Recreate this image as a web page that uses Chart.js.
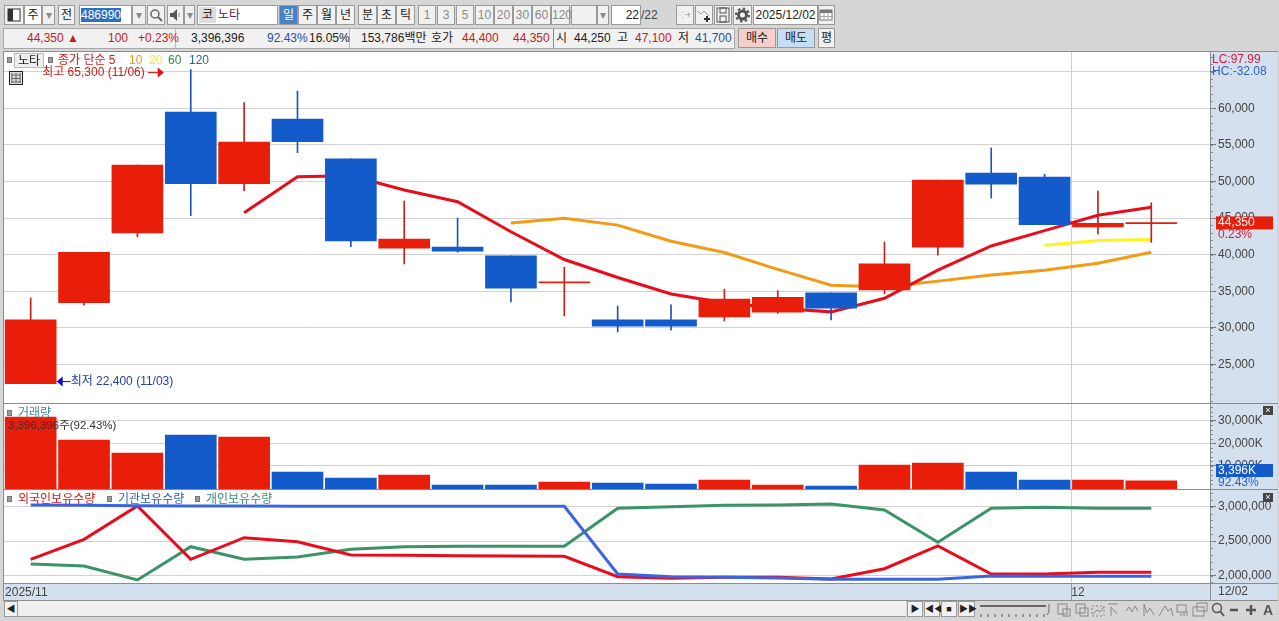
<!DOCTYPE html>
<html lang="ko">
<head>
<meta charset="utf-8">
<title>노타 486990</title>
<script src="https://cdn.jsdelivr.net/npm/chart.js@4"></script>
<style>
html,body{margin:0;padding:0;background:#d6d6d6;overflow:hidden}
body{width:1279px;height:621px;position:relative;font:12px 'Liberation Sans','Noto Sans CJK KR',sans-serif;color:#222}
div,span,canvas,svg{position:absolute;box-sizing:border-box;white-space:nowrap}
canvas{z-index:2}
.t{line-height:14px;z-index:3}
.b{top:5px;height:20px;background:#f1f1f1;border:1px solid #9a9a9a;text-align:center;line-height:18px}
.g{color:#8a8a8a}
.w{background:#fff}
.r{color:#c8201c}.u{color:#1f4fa8}
.sq{width:5px;height:6px;background:#9a9a9a;border:1px solid #777;z-index:3}
.ln{left:0;width:1279px;height:1px;background:#8c8c8c;z-index:4}
</style>
</head>
<body>
<!-- toolbar row 1 -->
<div class="b" style="left:4px;width:20px"><svg width="18" height="18" style="left:0;top:0"><rect x="3" y="3" width="12" height="12" fill="#fff" stroke="#333"/><rect x="3" y="3" width="5" height="12" fill="#333"/></svg></div>
<div class="b w" style="left:24px;width:18px">주</div>
<div class="b g" style="left:42px;width:13px">▾</div>
<div class="b" style="left:58px;width:17px">전</div>
<div class="b w" style="left:79px;width:53px;text-align:left"><span style="left:1px;top:2px;height:14px;line-height:14px;background:#2f6fc0;color:#fff">486990</span></div>
<div class="b g" style="left:132px;width:14px">▾</div>
<div class="b" style="left:147px;width:18px"><svg width="16" height="18" style="left:0;top:0"><circle cx="7" cy="8" r="4" fill="none" stroke="#666" stroke-width="1.5"/><path d="M10 11l4 4" stroke="#666" stroke-width="2"/></svg></div>
<div class="b" style="left:167px;width:17px"><svg width="15" height="18" style="left:0;top:0"><path d="M2 7h3l4-4v12l-4-4H2z" fill="#555"/><path d="M11 7v4" stroke="#888"/></svg></div>
<div class="b g" style="left:184px;width:11px">▾</div>
<div class="b w" style="left:197px;width:81px;text-align:left"><span style="left:1px;top:1px;width:17px;height:16px;line-height:16px;background:#ddd;text-align:center">코</span><span style="left:20px;top:0;color:#5a1a50">노타</span></div>
<div class="b" style="left:279px;width:19px;background:#4a80c6;color:#fff">일</div>
<div class="b" style="left:298px;width:19px">주</div>
<div class="b" style="left:317px;width:19px">월</div>
<div class="b" style="left:336px;width:19px">년</div>
<div class="b" style="left:358px;width:19px">분</div>
<div class="b" style="left:377px;width:19px">초</div>
<div class="b" style="left:396px;width:19px">틱</div>
<div class="b g" style="left:418px;width:18px">1</div>
<div class="b g" style="left:437px;width:18px">3</div>
<div class="b g" style="left:456px;width:18px">5</div>
<div class="b g" style="left:475px;width:19px">10</div>
<div class="b g" style="left:494px;width:19px">20</div>
<div class="b g" style="left:513px;width:19px">30</div>
<div class="b g" style="left:532px;width:19px">60</div>
<div class="b g" style="left:551px;width:19px">120</div>
<div class="b" style="left:571px;width:26px"></div>
<div class="b g" style="left:597px;width:12px">▾</div>
<div class="b w" style="left:611px;width:30px;text-align:right;padding-right:1px">22</div>
<div class="t" style="left:641px;top:8px;color:#444">/22</div>
<div class="b g" style="left:676px;width:18px;font-size:9px">⁘+</div>
<div class="b" style="left:695px;width:18px"><svg width="16" height="18" style="left:0;top:0"><path d="M1 5l4 3 3-3 5 5" fill="none" stroke="#999"/><path d="M8 13h6M11 10v6" stroke="#333" stroke-width="2"/></svg></div>
<div class="b" style="left:714px;width:18px"><svg width="16" height="18" style="left:0;top:0"><rect x="2" y="2" width="12" height="14" fill="none" stroke="#555"/><rect x="5" y="2" width="6" height="5" fill="none" stroke="#555"/><rect x="5" y="10" width="6" height="6" fill="none" stroke="#555"/></svg></div>
<div class="b" style="left:733px;width:19px"><svg width="17" height="18" style="left:0;top:0"><circle cx="8.500" cy="9" r="4" fill="none" stroke="#555" stroke-width="3"/><circle cx="8.500" cy="9" r="6.500" fill="none" stroke="#555" stroke-width="2" stroke-dasharray="2.500 2.500"/></svg></div>
<div class="b w" style="left:753px;width:65px">2025/12/02</div>
<div class="b" style="left:818px;width:17px"><svg width="15" height="18" style="left:0;top:0"><rect x="1" y="4" width="12" height="10" fill="#fff" stroke="#777"/><rect x="1" y="4" width="12" height="3" fill="#777"/><path d="M5 7v7M9 7v7M1 10.500h12" stroke="#aaa"/></svg></div>
<!-- toolbar row 2 -->
<div style="left:3px;top:28px;width:732px;height:21px;background:#f1f1f1;border:1px solid #a8a8a8"></div>
<div class="t r" style="left:27px;top:31px">44,350 ▲</div>
<div class="t r" style="left:108px;top:31px">100</div>
<div class="t r" style="left:138px;top:31px">+0.23%</div>
<div style="left:175px;top:29px;width:1px;height:19px;background:#bbb"></div>
<div class="t" style="left:191px;top:31px">3,396,396</div>
<div class="t u" style="left:267px;top:31px">92.43%</div>
<div class="t" style="left:309px;top:31px">16.05%</div>
<div style="left:349px;top:29px;width:1px;height:19px;background:#bbb"></div>
<div class="t" style="left:361px;top:31px">153,786백만</div>
<div class="t" style="left:431px;top:31px">호가</div>
<div class="t r" style="left:462px;top:31px">44,400</div>
<div class="t r" style="left:513px;top:31px">44,350</div>
<div style="left:553px;top:29px;width:1px;height:19px;background:#888"></div>
<div class="t" style="left:556px;top:31px">시</div>
<div class="t" style="left:574px;top:31px">44,250</div>
<div class="t" style="left:617px;top:31px">고</div>
<div class="t r" style="left:635px;top:31px">47,100</div>
<div class="t" style="left:678px;top:31px">저</div>
<div class="t u" style="left:695px;top:31px">41,700</div>
<div class="b" style="left:738px;top:28px;width:38px;height:20px;background:#f4cfcb">매수</div>
<div class="b" style="left:777px;top:28px;width:38px;height:20px;background:#c6def4">매도</div>
<div class="b" style="left:818px;top:28px;width:17px;height:20px">평</div>

<!-- panel backgrounds -->
<div class="w" style="left:4px;top:52px;width:1206px;height:531px"></div>
<div style="left:1210px;top:52px;width:67px;height:548px;background:#d5e0ee;border-left:1px solid #8c8c8c"></div>
<div style="left:4px;top:583px;width:1206px;height:17px;background:#d5e0ee"></div>
<div style="left:3px;top:51px;width:1px;height:549px;background:#8c8c8c;z-index:4"></div>
<div class="ln" style="top:51px;left:3px;width:1275px"></div>
<div class="ln" style="top:403px;left:3px;width:1275px"></div>
<div class="ln" style="top:489px;left:3px;width:1275px"></div>
<div class="ln" style="top:583px;left:3px;width:1275px"></div>
<div class="ln" style="top:600px;left:3px;width:1275px"></div>

<canvas id="priceChart" width="1273" height="351" style="left:4px;top:52px"></canvas>
<canvas id="volumeChart" width="1273" height="85" style="left:4px;top:404px"></canvas>
<canvas id="holdChart" width="1273" height="110" style="left:4px;top:490px"></canvas>

<!-- legends -->
<div class="sq" style="left:7px;top:57px"></div>
<div class="t" style="left:14px;top:53px;width:30px;height:15px;background:#eee;border:1px solid #bbb;text-align:center">노타</div>
<div class="sq" style="left:48px;top:57px"></div>
<div class="t r" style="left:58px;top:53px">종가 단순 5</div>
<div class="t" style="left:129px;top:53px;color:#e0a020">10</div>
<div class="t" style="left:149px;top:53px;color:#f0e838">20</div>
<div class="t" style="left:168px;top:53px;color:#2e8b3e">60</div>
<div class="t" style="left:189px;top:53px;color:#2e62b0">120</div>
<div style="left:9px;top:71px;width:14px;height:14px;border:1px solid #222;background:#ddd;z-index:3"><svg width="12" height="12" style="left:0;top:0"><path d="M2 1v10M6 1v10M10 1v10M1 3h10M1 6.500h10M1 10h10" stroke="#666"/></svg></div>
<div class="t" style="left:1212px;top:52px;color:#d0203c">LC:97.99</div>
<div class="t" style="left:1212px;top:64px;color:#2e62c0">HC:-32.08</div>

<div class="sq" style="left:7px;top:410px"></div>
<div class="t" style="left:18px;top:406px;color:#3a8f8f">거래량</div>
<div class="t" style="left:8px;top:418px;color:#333;font-size:11.500px">3,396,396주(92.43%)</div>

<div class="sq" style="left:7px;top:496px"></div>
<div class="t r" style="left:18px;top:492px">외국인보유수량</div>
<div class="sq" style="left:107px;top:496px"></div>
<div class="t" style="left:118px;top:492px;color:#2e62b0">기관보유수량</div>
<div class="sq" style="left:195px;top:496px"></div>
<div class="t" style="left:206px;top:492px;color:#3a8f78">개인보유수량</div>
<div style="left:1263px;top:406px;width:10px;height:9px;background:#444;color:#fff;font-size:9px;line-height:9px;text-align:center;z-index:3">×</div>
<div style="left:1263px;top:493px;width:10px;height:9px;background:#444;color:#fff;font-size:9px;line-height:9px;text-align:center;z-index:3">×</div>

<!-- bottom bar -->
<div class="b" style="left:4px;top:601px;width:14px;height:16px;line-height:14px;font-size:9px">◀</div>
<div style="left:18px;top:601px;width:888px;height:16px;background:#efefef;border-bottom:1px solid #999"></div>
<div class="b" style="left:907px;top:601px;width:16px;height:16px;line-height:14px;font-size:9px">▶</div>
<div class="b" style="left:924px;top:601px;width:16px;height:16px;line-height:14px;font-size:9px">◀◀</div>
<div class="b" style="left:941px;top:601px;width:16px;height:16px;line-height:14px;font-size:9px">■</div>
<div class="b" style="left:958px;top:601px;width:17px;height:16px;line-height:14px;font-size:9px">▶▶</div>
<svg width="300" height="18" style="left:979px;top:601px">
  <path d="M1 5h66" stroke="#666" stroke-width="2"/><path d="M70 3v8l-2 3" stroke="#666" fill="none"/>
  <path d="M2 13v3M9 13v3M16 13v3M23 13v3M30 13v3M37 13v3M44 13v3M51 13v3M58 13v3M65 13v3" stroke="#555"/>
  <g fill="none" stroke="#888">
    <rect x="79" y="3" width="9" height="10"/><rect x="84" y="8" width="7" height="7"/>
    <rect x="97" y="3" width="9" height="9"/><rect x="101" y="7" width="8" height="8"/>
    <path d="M113 5h12v10h-12z" stroke-dasharray="2 2"/><path d="M114 13l4-4 3 2 4-5"/>
    <path d="M129 3h10M132 15V6l6 7"/><path d="M147 10l3-4 3 5 3-6 3 5"/>
    <path d="M165 15V3l3 9 3-5 4 7"/><path d="M180 15l6-10 3 5 3-3 2 8"/>
    <rect x="198" y="4" width="9" height="7"/><path d="M202 15v-3M205 15v-4M208 15v-5"/>
    <rect x="214" y="6" width="11" height="9"/><rect x="218" y="2" width="10" height="8"/>
  </g>
  <circle cx="238" cy="7" r="4.500" fill="none" stroke="#555" stroke-width="1.500"/><path d="M241 10l4 5" stroke="#555" stroke-width="2"/>
  <path d="M251 9h8M267 9h10M272 4v10" stroke="#555" stroke-width="2.500"/>
</svg>
<div class="t" style="left:1263px;top:603px;font-weight:bold;color:#555;font-size:14px">A</div>

<script>
// 2025/11/03 .. 2025/12/02, daily
var dates = ['11/03','11/04','11/05','11/06','11/07','11/10','11/11','11/12','11/13','11/14','11/17','11/18','11/19','11/20','11/21','11/24','11/25','11/26','11/27','11/28','12/01','12/02'];
var openPrices  = [22400,33450,43000,59500,49700,58550,53100,40900,41050,39850,36150,31100,31100,31500,32150,34800,35200,41050,51150,50600,43800,44250];
var closePrices = [31100,40350,52250,49700,55400,55450,41900,42150,40500,35450,36200,30250,30250,33950,34200,32700,38750,50200,49650,44100,44300,44350];
var highPrices  = [34100,40350,52250,65300,60800,62350,53100,47350,45000,39850,38300,33000,33150,35300,35100,34800,41750,50200,54600,51000,48700,47100];
var lowPrices   = [22400,33100,42450,45350,48750,53950,41100,38750,40350,33550,31650,29450,29700,30950,32000,31100,34650,39950,47750,44100,42850,41700];
var ma5  = [null,null,null,null,45750,50650,50800,48850,47250,43150,39350,36900,34650,33450,32700,32200,34050,37900,41200,43300,45400,46500];
var ma10 = [null,null,null,null,null,null,null,null,null,44350,45000,44050,41850,40300,38000,35850,35600,36400,37250,37900,38850,40350];
var ma20 = [null,null,null,null,null,null,null,null,null,null,null,null,null,null,null,null,null,null,null,41300,41950,42100];
var volumes = [31650,21450,15700,23650,22800,7300,4650,5950,1550,1550,2900,2450,2000,3750,1550,1100,10400,11300,7300,3750,3750,3396];
var foreignHold = [2235000,2526000,3010000,2235000,2549000,2491000,2298000,2294000,2288000,2283000,2279000,1983000,1959000,1974000,1974000,1949000,2099000,2429000,2022000,2022000,2047000,2047000];
var instHold    = [3025000,3020000,3015000,3010000,3010000,3008000,3006000,3006000,3006000,3006000,3006000,2022000,1983000,1974000,1964000,1945000,1945000,1945000,1993000,1988000,1988000,1988000];
var indivHold   = [2167000,2138000,1935000,2419000,2235000,2269000,2381000,2419000,2424000,2424000,2424000,2977000,3000000,3020000,3025000,3039000,2952000,2483000,2977000,2991000,2977000,2977000];
var priceTicks  = [25000,30000,35000,40000,45000,50000,55000,60000,65000];
var volumeTicks = [10000,20000,30000];
var holdTicks   = [2000000,2500000,3000000];
var monthTick = 19.5; // boundary between 11/28 and 12/01

var RED = '#e81e0a', BLUE = '#135acb', WICK_RED = '#c4201c', WICK_BLUE = '#1a56b8';
var FONT = "'Liberation Sans','Noto Sans CJK KR',sans-serif";
var XMIN = -0.5, XMAX = 22.1;

function fmt(v) { return v.toLocaleString('en-US'); }
function pts(arr) { return arr.map(function(v, i) { return {x: i, y: v}; }); }
function up(i) { return closePrices[i] >= openPrices[i]; }
function barColors(a, b) { return dates.map(function(d, i) { return up(i) ? a : b; }); }
function lineSet(data, color, w) {
  return {type: 'line', data: pts(data), borderColor: color, borderWidth: w, pointRadius: 0, tension: 0, order: 2};
}
function noPad(s) { s.paddingTop = s.paddingBottom = s.paddingLeft = s.paddingRight = 0; }

function xAxis(ticks) {
  return {
    type: 'linear', min: XMIN, max: XMAX, offset: false,
    afterBuildTicks: function(s) { s.ticks = ticks.map(function(v) { return {value: v}; }); },
    afterFit: function(s) { s.height = 0; noPad(s); },
    ticks: {display: false},
    border: {display: false},
    grid: {offset: false, color: '#cfcfcf', drawTicks: false}
  };
}
function yAxis(min, max, ticks, label) {
  return {
    position: 'right', min: min, max: max,
    afterBuildTicks: function(s) { s.ticks = ticks.map(function(v) { return {value: v}; }); },
    afterFit: function(s) { s.width = 67; noPad(s); },
    ticks: {color: '#444', font: {family: FONT, size: 12}, padding: 2, callback: label},
    border: {display: false},
    grid: {color: '#d2d2d2', tickColor: '#777', tickLength: 6}
  };
}

// short marks between the labelled ticks on the right axis
function minorMarks(step) {
  return {
    id: 'minorMarks',
    beforeDatasetsDraw: function(chart) {
      var s = chart.scales.y, c = chart.ctx;
      c.save();
      c.strokeStyle = '#8a8a8a';
      c.beginPath();
      for (var v = Math.ceil(s.min / step) * step; v < s.max; v += step) {
        var y = Math.round(s.getPixelForValue(v)) + 0.5;
        c.moveTo(s.left, y);
        c.lineTo(s.left + 3, y);
      }
      c.stroke();
      c.restore();
    }
  };
}

function tag(chart, y, bg, main, sub, subColor) {
  var s = chart.scales.y, c = chart.ctx;
  c.save();
  c.fillStyle = bg;
  c.fillRect(s.left + 6, y - 6.5, 57, 13);
  c.font = '12px ' + FONT;
  c.textBaseline = 'middle';
  c.fillStyle = '#fff';
  c.fillText(main, s.left + 8, y);
  c.fillStyle = subColor;
  c.fillText(sub, s.left + 8, y + 12);
  c.restore();
}

var priceMarks = {
  id: 'priceMarks',
  afterDraw: function(chart) {
    var xs = chart.scales.x, ys = chart.scales.y, c = chart.ctx;
    var hi = highPrices.indexOf(Math.max.apply(null, highPrices));
    var lo = lowPrices.indexOf(Math.min.apply(null, lowPrices));
    c.save();
    c.font = '12px ' + FONT;
    c.textBaseline = 'middle';
    // high label, arrow points at the high candle
    var hx = xs.getPixelForValue(hi) - 27, hy = ys.getPixelForValue(highPrices[hi]) + 3;
    c.fillStyle = '#c8201c'; c.strokeStyle = '#e01010';
    c.textAlign = 'right';
    c.fillText('최고 ' + fmt(highPrices[hi]) + ' (' + dates[hi] + ')', hx - 19, hy);
    c.beginPath(); c.moveTo(hx - 16, hy); c.lineTo(hx - 3, hy); c.stroke();
    c.fillStyle = '#e01010';
    c.beginPath(); c.moveTo(hx, hy); c.lineTo(hx - 6, hy - 5); c.lineTo(hx - 6, hy + 5); c.fill();
    // low label
    var lx = xs.getPixelForValue(lo) + 26, ly = ys.getPixelForValue(lowPrices[lo]) - 2;
    c.fillStyle = '#0a0ac8'; c.strokeStyle = '#0a0ac8';
    c.beginPath(); c.moveTo(lx, ly); c.lineTo(lx + 6, ly - 5); c.lineTo(lx + 6, ly + 5); c.fill();
    c.beginPath(); c.moveTo(lx + 3, ly); c.lineTo(lx + 14, ly); c.stroke();
    c.fillStyle = '#1f3fa8';
    c.textAlign = 'left';
    c.fillText('최저 ' + fmt(lowPrices[lo]) + ' (' + dates[lo] + ')', lx + 14, ly);
    c.restore();
    tag(chart, ys.getPixelForValue(closePrices[21]), RED, fmt(closePrices[21]), '0.23%', '#d0203c');
  }
};
var volumeMarks = {
  id: 'volumeMarks',
  afterDraw: function(chart) {
    tag(chart, chart.scales.y.bottom - 18.5, BLUE, fmt(volumes[21]) + 'K', '92.43%', '#2e62c0');
  }
};
var endDate = {
  id: 'endDate',
  afterDraw: function(chart) {
    var c = chart.ctx;
    c.save();
    c.font = '12px ' + FONT;
    c.fillStyle = '#444';
    c.textBaseline = 'middle';
    c.fillText(dates[21], chart.scales.y.left + 8, chart.height - 8);
    c.restore();
  }
};

Chart.defaults.animation = false;
Chart.defaults.responsive = false;

new Chart(document.getElementById('priceChart'), {
  type: 'bar',
  data: {
    datasets: [
      {data: dates.map(function(d, i) { return {x: i, y: [openPrices[i], closePrices[i]]}; }),
       backgroundColor: barColors(RED, BLUE), barThickness: 51, minBarLength: 1, grouped: false, order: 0},
      {data: dates.map(function(d, i) { return {x: i, y: [lowPrices[i], highPrices[i]]}; }),
       backgroundColor: barColors(WICK_RED, WICK_BLUE), barThickness: 1, grouped: false, order: 1},
      lineSet(ma5, '#e80c1c', 3),
      lineSet(ma10, '#f59a14', 3),
      lineSet(ma20, '#fff21e', 3)
    ]
  },
  options: {
    layout: {padding: 0},
    plugins: {legend: {display: false}, tooltip: {enabled: false}},
    scales: {
      x: xAxis([monthTick]),
      y: yAxis(19750, 67700, priceTicks, function(v) { return v >= 65000 ? '' : fmt(v); })
    }
  },
  plugins: [minorMarks(1000), priceMarks]
});

new Chart(document.getElementById('volumeChart'), {
  type: 'bar',
  data: {
    datasets: [{
      data: pts(volumes),
      backgroundColor: barColors(RED, BLUE),
      barThickness: 51,
      grouped: false
    }]
  },
  options: {
    layout: {padding: 0},
    plugins: {legend: {display: false}, tooltip: {enabled: false}},
    scales: {
      x: xAxis([monthTick]),
      y: yAxis(-200, 37400, volumeTicks, function(v) { return fmt(v) + 'K'; })
    }
  },
  plugins: [minorMarks(2000), volumeMarks]
});

var holdX = xAxis([XMIN + 0.02, monthTick]);
holdX.afterFit = function(s) { s.height = 17; noPad(s); };
holdX.ticks = {
  display: true, autoSkip: false, maxRotation: 0, align: 'start', padding: -15,
  color: '#444', font: {family: FONT, size: 12},
  callback: function(v) { return v === monthTick ? dates[20].slice(0, 2) : '2025/' + dates[0].slice(0, 2); }
};
holdX.grid = {offset: false, drawTicks: true, tickLength: 17,
  color: function(c) { return c.tick && c.tick.value === monthTick ? '#cfcfcf' : 'rgba(0,0,0,0)'; },
  tickColor: function(c) { return c.tick && c.tick.value === monthTick ? '#9a9a9a' : 'rgba(0,0,0,0)'; }};

new Chart(document.getElementById('holdChart'), {
  type: 'line',
  data: {
    datasets: [
      {data: pts(indivHold), borderColor: '#3a9468', borderWidth: 3, pointRadius: 0, tension: 0, order: 3},
      {data: pts(foreignHold), borderColor: '#e80c1c', borderWidth: 3, pointRadius: 0, tension: 0, order: 2},
      {data: pts(instHold), borderColor: '#3c64e0', borderWidth: 3, pointRadius: 0, tension: 0, order: 1}
    ]
  },
  options: {
    layout: {padding: 0},
    plugins: {legend: {display: false}, tooltip: {enabled: false}},
    scales: {
      x: holdX,
      y: yAxis(1891000, 3242700, holdTicks, fmt)
    }
  },
  plugins: [minorMarks(100000), endDate]
});
</script>
</body>
</html>
